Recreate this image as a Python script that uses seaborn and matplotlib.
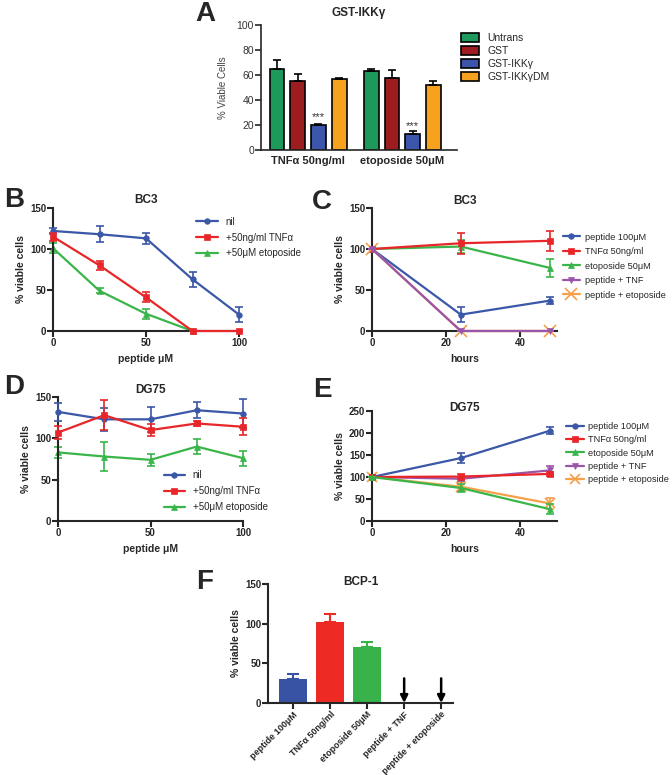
import numpy as np
import pandas as pd
import seaborn as sns
import matplotlib.pyplot as plt

sns.set_style('ticks')
plt.rcParams['font.family'] = ['Liberation Sans', 'DejaVu Sans']
plt.rcParams['axes.linewidth'] = 1.5

# ---- data ----
# A: GST-IKKgamma
a_groups = ['TNFα 50ng/ml', 'etoposide 50μM']
a_series = ['Untrans', 'GST', 'GST-IKKγ', 'GST-IKKγDM']
a_untrans = [65, 63]
a_untrans_err = [7, 2]
a_gst = [55, 58]
a_gst_err = [6, 6]
a_ikk = [20, 13]
a_ikk_err = [0.6, 2]
a_ikkdm = [57, 52]
a_ikkdm_err = [0.5, 3.5]

# B / D: peptide dose
dose = [0, 25, 50, 75, 100]
b_nil = [122, 118, 113, 63, 20]
b_nil_err = [4, 10, 7, 9, 9]
b_tnf = [115, 80, 41, 0, 0]
b_tnf_err = [5, 5, 6, 0, 0]
b_eto = [101, 49, 21, 0, np.nan]
b_eto_err = [6, 3, 6, 0, 0]

d_nil = [132, 123, 123, 134, 130]
d_nil_err = [11, 14, 15, 10, 18]
d_tnf = [107, 128, 110, 118, 114]
d_tnf_err = [8, 18, 7, 3, 10]
d_eto = [83, 78, 74, 90, 76]
d_eto_err = [7, 17, 7, 9, 9]

# C / E: time course
hours = [0, 24, 48]
c_pep = [100, 20, 37]
c_pep_err = [0, 9, 4]
c_tnf = [100, 107, 110]
c_tnf_err = [0, 13, 12]
c_eto = [100, 103, 77]
c_eto_err = [0, 8, 11]
c_pep_tnf = [100, 0, 0]
c_pep_tnf_err = [0, 0, 0]
c_pep_eto = [100, 0, 0]
c_pep_eto_err = [0, 0, 0]

e_pep = [100, 143, 205]
e_pep_err = [0, 12, 8]
e_tnf = [100, 101, 107]
e_tnf_err = [0, 6, 5]
e_eto = [100, 75, 27]
e_eto_err = [0, 8, 12]
e_pep_tnf = [100, 96, 115]
e_pep_tnf_err = [0, 4, 9]
e_pep_eto = [100, 78, 40]
e_pep_eto_err = [0, 10, 13]

# F: BCP-1
f_labels = ['peptide 100μM', 'TNFα 50ng/ml', 'etoposide 50μM', 'peptide + TNF', 'peptide + etoposide']
f_vals = [30, 102, 70, 0, 0]
f_err = [6, 10, 7, 0, 0]

dose_labels = ['nil', '+50ng/ml TNFα', '+50μM etoposide']
time_labels = ['peptide 100μM', 'TNFα 50ng/ml', 'etoposide 50μM', 'peptide + TNF', 'peptide + etoposide']

BLUE, RED, GREEN, PURPLE, ORANGE = '#3b57a7', '#e8262a', '#3ab54a', '#9b55a8', '#f6a04a'

W, H = 672, 775
fig = plt.figure(figsize=(W / 100, H / 100), dpi=100)


def box(l, r, t, b):
    return [l / W, 1 - b / H, (r - l) / W, (b - t) / H]


def style_axes(ax):
    sns.despine(ax=ax)
    ax.tick_params(axis='both', direction='out', length=4, width=1.5, labelsize=7, pad=1)
    for lab in ax.get_xticklabels() + ax.get_yticklabels():
        lab.set_fontweight('bold')
    ax.set_facecolor('none')


def line_panel(ax, x, series, errs, labels, colors, markers, sizes, zorders):
    for y, e, lab, c, m, s, z in zip(series, errs, labels, colors, markers, sizes, zorders):
        sns.lineplot(x=x, y=y, ax=ax, color=c, marker=m, markersize=s, linewidth=1.6,
                     markeredgecolor=c, markeredgewidth=1.2 if m == 'x' else 0.5,
                     label=lab, zorder=z, clip_on=False)
        ax.errorbar(x, y, yerr=e, fmt='none', ecolor=c, elinewidth=1.2, capsize=3,
                    capthick=1.2, zorder=z, clip_on=False)


def panel_title(ax, text, yfrac):
    ax.text(0.5, yfrac, text, transform=ax.transAxes, ha='center', va='center',
            fontsize=8.5, fontweight='bold')


def letter(x, y, s):
    fig.text(x / W, 1 - y / H, s, fontsize=20, fontweight='bold', ha='center', va='center')


# ---- A ----
axA = fig.add_axes(box(261, 457, 25, 150))
a_df = pd.DataFrame({
    'group': a_groups * 4,
    'series': np.repeat(a_series, 2),
    'value': a_untrans + a_gst + a_ikk + a_ikkdm,
})
a_err = [a_untrans_err, a_gst_err, a_ikk_err, a_ikkdm_err]
a_colors = ['#1d9a5b', '#9c1c20', '#3a55aa', '#f7a21e']
sns.barplot(data=a_df, x='group', y='value', hue='series', palette=a_colors, ax=axA,
            width=0.88, gap=0.28, edgecolor='black', linewidth=1.2, errorbar=None,
            saturation=1)
for cont, err in zip(axA.containers, a_err):
    for bar, e in zip(cont, err):
        xc = bar.get_x() + bar.get_width() / 2
        axA.errorbar(xc, bar.get_height(), yerr=[[0], [e]], fmt='none', ecolor='black',
                     elinewidth=1.2, capsize=3, capthick=1.2)
for bar in axA.containers[2]:
    axA.text(bar.get_x() + bar.get_width() / 2, bar.get_height() + 2.5, '***',
             ha='center', va='bottom', fontsize=8, color='#333333')
axA.set_ylim(0, 100)
axA.set_xlim(-0.5, 1.58)
axA.set_yticks([0, 20, 40, 60, 80, 100])
sns.despine(ax=axA)
axA.spines['left'].set_linewidth(1.2)
axA.spines['bottom'].set_linewidth(1.2)
axA.tick_params(axis='y', length=4, width=1.2, labelsize=7.5, labelcolor='#333333', pad=1)
axA.tick_params(axis='x', length=0, labelsize=8, pad=4)
for lab in axA.get_xticklabels():
    lab.set_fontweight('bold')
axA.set_xlabel('')
axA.set_ylabel('% Viable Cells', fontsize=7, color='#444444', labelpad=6)
axA.legend(loc='upper left', bbox_to_anchor=(1.0, 0.97), frameon=False, fontsize=7.5,
           handlelength=1.7, handleheight=0.9, handletextpad=0.8, labelspacing=0.3,
           borderaxespad=0)
panel_title(axA, 'GST-IKKγ', 1.096)

# ---- B ----
axB = fig.add_axes(box(53, 239, 208, 331))
line_panel(axB, dose, [b_nil, b_tnf, b_eto], [b_nil_err, b_tnf_err, b_eto_err], dose_labels,
           [BLUE, RED, GREEN], ['o', 's', '^'], [4, 4, 4], [3, 4, 2])
axB.set_xlim(0, 100)
axB.set_ylim(0, 150)
axB.set_xticks([0, 50, 100])
axB.set_yticks([0, 50, 100, 150])
axB.set_xlabel('peptide μM', fontsize=7.5, fontweight='bold', labelpad=4)
axB.set_ylabel('% viable cells', fontsize=7.5, fontweight='bold', labelpad=3)
style_axes(axB)
axB.legend(loc='upper left', bbox_to_anchor=(0.75, 0.96), frameon=False, fontsize=7,
           handlelength=2.2, labelspacing=0.6, borderaxespad=0)
panel_title(axB, 'BC3', 1.065)

# ---- C ----
axC = fig.add_axes(box(372, 557, 208, 331))
line_panel(axC, hours, [c_pep, c_tnf, c_eto, c_pep_tnf, c_pep_eto],
           [c_pep_err, c_tnf_err, c_eto_err, c_pep_tnf_err, c_pep_eto_err], time_labels,
           [BLUE, RED, GREEN, PURPLE, ORANGE], ['o', 's', '^', 'v', 'x'], [4, 4, 4, 4, 8],
           [3, 4, 2, 6, 5])
axC.set_xlim(0, 50)
axC.set_ylim(0, 150)
axC.set_xticks([0, 20, 40])
axC.set_yticks([0, 50, 100, 150])
axC.set_xlabel('hours', fontsize=7.5, fontweight='bold', labelpad=4)
axC.set_ylabel('% viable cells', fontsize=7.5, fontweight='bold', labelpad=3)
style_axes(axC)
axC.legend(loc='upper left', bbox_to_anchor=(1.01, 0.83), frameon=False, fontsize=6.6,
           handlelength=1.9, handletextpad=0.5, labelspacing=0.6, borderaxespad=0)
panel_title(axC, 'BC3', 1.06)

# ---- D ----
axD = fig.add_axes(box(58, 243, 397, 521))
line_panel(axD, dose, [d_nil, d_tnf, d_eto], [d_nil_err, d_tnf_err, d_eto_err], dose_labels,
           [BLUE, RED, GREEN], ['o', 's', '^'], [4, 4, 4], [3, 4, 2])
axD.set_xlim(0, 100)
axD.set_ylim(0, 150)
axD.set_xticks([0, 50, 100])
axD.set_yticks([0, 50, 100, 150])
axD.set_xlabel('peptide μM', fontsize=7.5, fontweight='bold', labelpad=4)
axD.set_ylabel('% viable cells', fontsize=7.5, fontweight='bold', labelpad=3)
style_axes(axD)
axD.legend(loc='upper left', bbox_to_anchor=(0.55, 0.44), frameon=False, fontsize=7,
           handlelength=2.2, labelspacing=0.6, borderaxespad=0)
panel_title(axD, 'DG75', 1.055)

# ---- E ----
axE = fig.add_axes(box(372, 557, 411, 521))
line_panel(axE, hours, [e_pep, e_tnf, e_eto, e_pep_tnf, e_pep_eto],
           [e_pep_err, e_tnf_err, e_eto_err, e_pep_tnf_err, e_pep_eto_err], time_labels,
           [BLUE, RED, GREEN, PURPLE, ORANGE], ['o', 's', '^', 'v', 'x'], [4, 4, 4, 4, 7],
           [3, 4, 5, 2, 1])
axE.set_xlim(0, 50)
axE.set_ylim(0, 250)
axE.set_xticks([0, 20, 40])
axE.set_yticks([0, 50, 100, 150, 200, 250])
axE.set_xlabel('hours', fontsize=7.5, fontweight='bold', labelpad=4)
axE.set_ylabel('% viable cells', fontsize=7.5, fontweight='bold', labelpad=3)
style_axes(axE)
axE.legend(loc='upper left', bbox_to_anchor=(1.03, 0.93), frameon=False, fontsize=6.6,
           handlelength=1.9, handletextpad=0.5, labelspacing=0.45, borderaxespad=0)
panel_title(axE, 'DG75', 1.03)

# ---- F ----
axF = fig.add_axes(box(268, 453, 584, 703))
sns.barplot(x=f_labels, y=f_vals, hue=f_labels, legend=False, ax=axF, width=0.74,
            palette=['#3953a4', '#ed2b24', '#37b34a', '#888888', '#888888'], saturation=1,
            linewidth=0)
for i, (v, e) in enumerate(zip(f_vals, f_err)):
    if e > 0:
        axF.errorbar(i, v, yerr=[[0], [e]], fmt='none', ecolor=axF.patches[i].get_facecolor(),
                     elinewidth=1.5, capsize=4, capthick=1.5)
for i in [3, 4]:
    axF.annotate('', xy=(i, 0), xytext=(i, 31),
                 arrowprops=dict(arrowstyle='-|>', color='black', lw=1.8, mutation_scale=11,
                                 shrinkA=0, shrinkB=0))
axF.set_xlim(-0.68, 4.32)
axF.set_ylim(0, 150)
axF.set_yticks([0, 50, 100, 150])
axF.set_ylabel('% viable cells', fontsize=7.5, fontweight='bold', labelpad=3)
style_axes(axF)
axF.tick_params(axis='x', labelsize=6.5)
plt.setp(axF.get_xticklabels(), rotation=45, ha='right', rotation_mode='anchor')
panel_title(axF, 'BCP-1', 1.02)

letter(205, 14, 'A')
letter(14, 200, 'B')
letter(322, 202, 'C')
letter(14, 387, 'D')
letter(322, 390, 'E')
letter(205, 582, 'F')

fig.savefig('out.png', dpi=100)
